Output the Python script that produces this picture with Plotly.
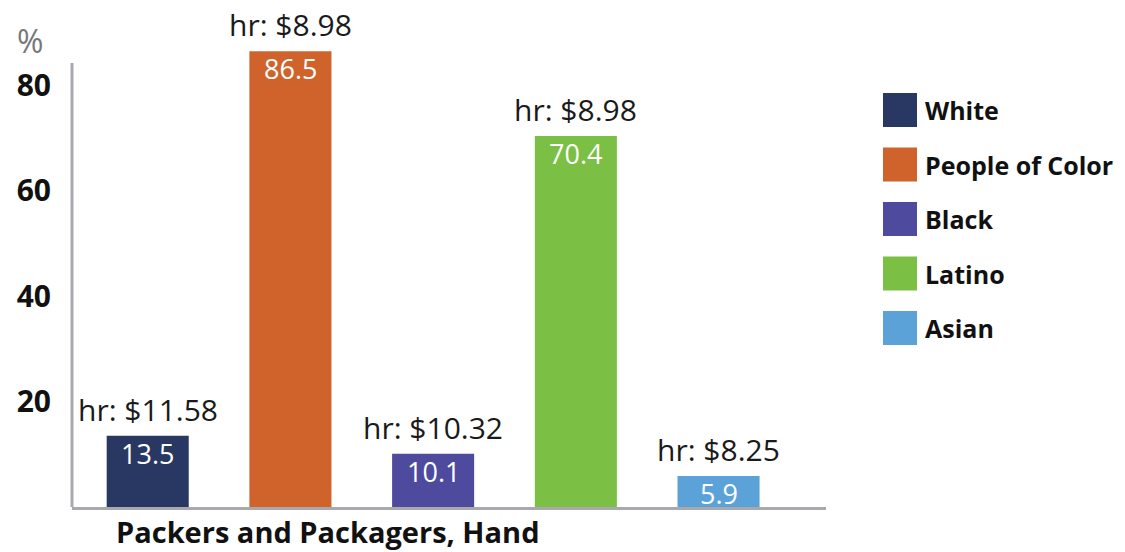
import plotly.graph_objects as go

# data
occupation = "Packers and Packagers, Hand"
groups = ["White", "People of Color", "Black", "Latino", "Asian"]
shares = [13.5, 86.5, 10.1, 70.4, 5.9]
wages = ["$11.58", "$8.98", "$10.32", "$8.98", "$8.25"]
colors = ["#283862", "#d0632b", "#4e4a9e", "#7bbf44", "#5ba2d8"]
y_ticks = [20, 40, 60, 80]

FONT = "Open Sans"
AXIS_GRAY = "#a7a9ac"

# page layout (pixels)
W, H = 1125, 552
L, R, T, B = 72, 299, 10, 45
PLOT_W = W - L - R
PLOT_H = H - T - B
PX_PER_UNIT = 5.27


def px_x(p):
    return (p - L) / PLOT_W


def px_y(p):
    return (H - B - p) / PLOT_H


fig = go.Figure()
fig.add_trace(go.Bar(
    x=groups,
    y=shares,
    width=0.575,
    marker=dict(color=colors, line=dict(width=0)),
    showlegend=False,
    hoverinfo="skip",
))

for g, v, w in zip(groups, shares, wages):
    # hourly wage above the bar
    fig.add_annotation(x=g, y=v, text=f"hr: {w}", showarrow=False,
                       yanchor="bottom", yshift=4,
                       font=dict(family=FONT, size=30, color="#1a1a1a"))
    # share value just inside the top of the bar
    fig.add_annotation(x=g, y=v, text=f"{v}", showarrow=False,
                       yanchor="top", yshift=3,
                       font=dict(family=FONT, size=27, color="white"))

# y axis line stops short of the top
fig.add_shape(type="line", xref="paper", yref="y", x0=0, x1=0, y0=0,
              y1=(H - B - 63) / PX_PER_UNIT, line=dict(color=AXIS_GRAY, width=3))

# % unit label
fig.add_annotation(xref="paper", yref="paper", x=px_x(29.5), y=px_y(41),
                   text="%", showarrow=False, xanchor="center", yanchor="middle",
                   font=dict(family=FONT, size=32, color="#77787b"))

# occupation label
fig.add_annotation(xref="paper", yref="paper", x=px_x(327.5), y=px_y(531),
                   text=f"<b>{occupation}</b>", showarrow=False,
                   xanchor="center", yanchor="middle",
                   font=dict(family=FONT, size=29, color="#111111"))

# legend built by hand (big swatches)
for i, (g, c) in enumerate(zip(groups, colors)):
    top = 93 + i * 54.5
    fig.add_shape(type="rect", xref="paper", yref="paper",
                  x0=px_x(883), x1=px_x(917), y0=px_y(top), y1=px_y(top + 34),
                  fillcolor=c, line=dict(width=0))
    fig.add_annotation(xref="paper", yref="paper", x=px_x(923), y=px_y(top + 17),
                       text=f"<b>{g}</b>", showarrow=False,
                       xanchor="left", yanchor="middle",
                       font=dict(family=FONT, size=25, color="#111111"))

fig.update_layout(
    width=W, height=H,
    margin=dict(l=L, r=R, t=T, b=B),
    paper_bgcolor="white", plot_bgcolor="white",
    xaxis=dict(type="category", range=[-0.5305, 4.753], showticklabels=False,
               showline=True, linecolor=AXIS_GRAY, linewidth=3,
               showgrid=False, zeroline=False, ticks=""),
    yaxis=dict(range=[0, PLOT_H / PX_PER_UNIT], tickvals=y_ticks, showgrid=False,
               zeroline=False, showline=False, ticks="",
               ticklabelstandoff=20,
               tickfont=dict(family=FONT, size=30, color="#111111", weight="bold")),
)

# drop the browser's default body margin so the chart sits at the page corner
fig.write_html("out.html", config={"displayModeBar": False},
               post_script="document.body.style.margin='0';")
